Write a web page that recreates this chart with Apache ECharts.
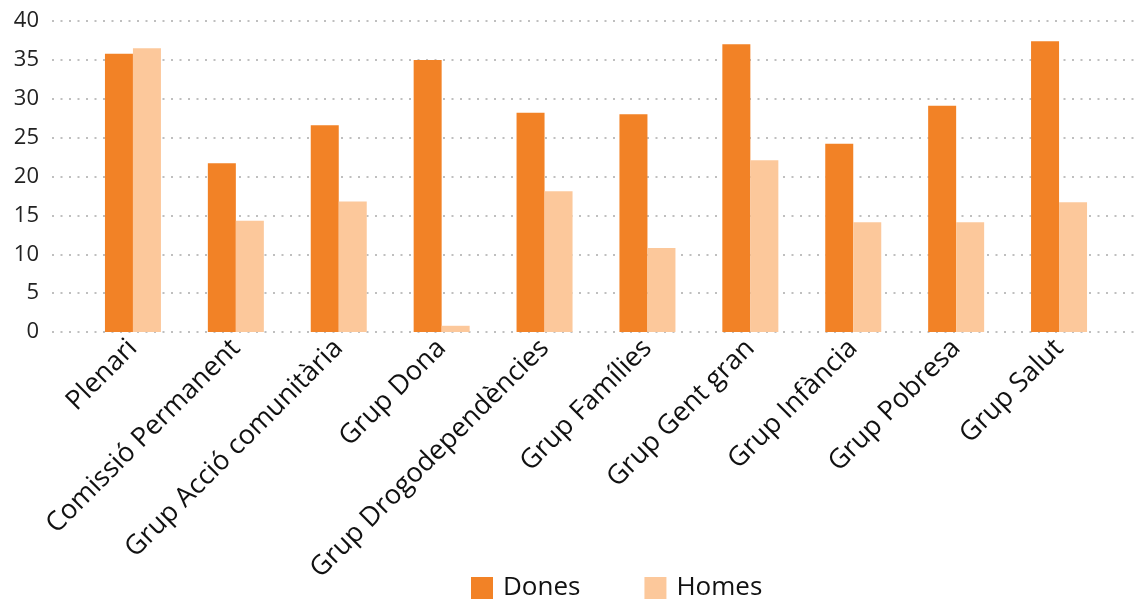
<!DOCTYPE html>
<html>
<head>
<meta charset="utf-8">
<script src="https://cdn.jsdelivr.net/npm/echarts@6/dist/echarts.min.js"></script>
<style>html,body{margin:0;padding:0;background:#fff}#c{width:1134px;height:602px}</style>
</head>
<body>
<div id="c"></div>
<script>
const categories = ["Plenari","Comissió Permanent","Grup Acció comunitària","Grup Dona","Grup Drogodependències","Grup Famílies","Grup Gent gran","Grup Infància","Grup Pobresa","Grup Salut"];
const dones = [35.8, 21.7, 26.6, 35.0, 28.2, 28.0, 37.0, 24.2, 29.1, 37.4];
const homes = [36.5, 14.3, 16.8, 0.8, 18.1, 10.8, 22.1, 14.1, 14.1, 16.7];
const yTicks = [0, 5, 10, 15, 20, 25, 30, 35, 40];

const FONT = '"Open Sans", "Noto Sans", sans-serif';
const chart = echarts.init(document.getElementById('c'));
chart.setOption({
  animation: false,
  textStyle: { fontFamily: FONT },
  legend: {
    data: ['Dones', 'Homes'],
    left: 466, top: 570,
    icon: 'rect', itemWidth: 22, itemHeight: 22, itemGap: 64,
    textStyle: { fontSize: 26, color: '#111', fontFamily: FONT, padding: [0, 0, 0, 5] }
  },
  grid: [
    { left: 52, right: 0, top: 21, height: 311 },
    { left: 81.5, width: 1029, top: 21, height: 311 }
  ],
  xAxis: [
    { gridIndex: 0, type: 'category', data: categories, show: false },
    { gridIndex: 1, type: 'category', data: categories,
      axisLine: { show: false }, axisTick: { show: false },
      axisLabel: { rotate: 45, interval: 0, fontSize: 27, color: '#111', margin: 12, fontFamily: FONT } }
  ],
  yAxis: [
    { gridIndex: 0, type: 'value', min: yTicks[0], max: yTicks[yTicks.length-1], interval: 5,
      axisLine: { show: false }, axisTick: { show: false },
      axisLabel: { fontSize: 22, color: '#222', margin: 13, fontFamily: FONT },
      splitLine: { lineStyle: { color: '#aaa', width: 1.5, type: [2, 6.5] } } },
    { gridIndex: 1, type: 'value', min: yTicks[0], max: yTicks[yTicks.length-1], interval: 5, show: false,
      splitLine: { show: false } }
  ],
  series: [
    { name: 'Dones', type: 'bar', xAxisIndex: 1, yAxisIndex: 1, data: dones, barWidth: 28, barGap: '0%',
      itemStyle: { color: '#F28226' } },
    { name: 'Homes', type: 'bar', xAxisIndex: 1, yAxisIndex: 1, data: homes, barWidth: 28, barGap: '0%',
      itemStyle: { color: '#FCC89B' } }
  ]
});
</script>
</body>
</html>
